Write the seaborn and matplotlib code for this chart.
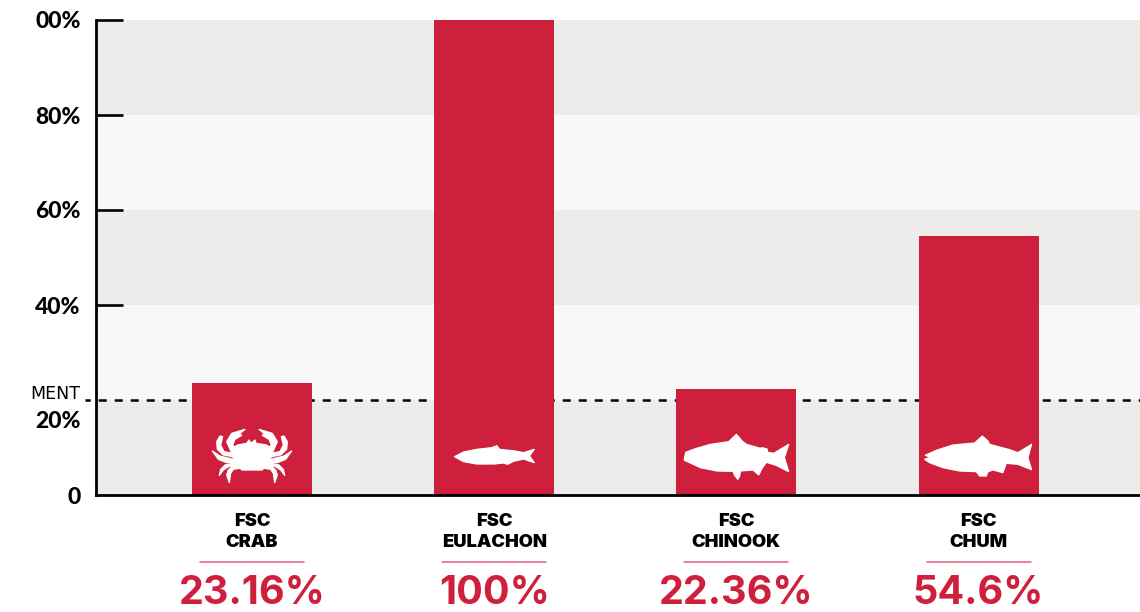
import matplotlib
matplotlib.use("Agg")
import matplotlib.pyplot as plt
import pandas as pd
import seaborn as sns
from matplotlib.patches import Polygon
from matplotlib.transforms import Affine2D, ScaledTranslation

# --- Data ---
categories = ["FSC\nCRAB", "FSC\nEULACHON", "FSC\nCHINOOK", "FSC\nCHUM"]
bar_values = [23.6, 100, 22.3, 54.5]
value_labels = ["23.16%", "100%", "22.36%", "54.6%"]
tick_values = [0, 20, 40, 60, 80, 100]
tick_labels = ["0", "20%", "40%", "60%", "80%", "00%"]
band_edges = [0, 20, 40, 60, 80, 100]
threshold = 20
threshold_label = "MENT"

RED = "#CE1F3C"
RULE = "#E0607A"
BAND_DARK = "#ECECEA"
BAND_LIGHT = "#F8F8F8"
W, H = 1140, 612
LEFT, RIGHT, TOP, BASE = 96, 1140, 20, 495
FIRST, STEP, BAR_W = 252, 242.2, 120

# icon outlines (3x pixels, y down)
chinook = [(72, 112), (76, 94), (105, 83), (150, 70), (205, 62), (228, 40), (245, 60), (258, 70),
           (300, 82), (305, 80), (320, 84), (322, 94), (340, 97), (385, 70), (372, 110), (385, 152),
           (345, 132), (318, 124), (305, 142), (295, 162), (278, 147), (240, 150), (238, 165),
           (232, 175), (222, 162), (218, 151), (170, 150), (120, 140), (90, 126), (72, 118)]
chum = [(797, 103), (830, 88), (880, 72), (945, 66), (968, 45), (985, 60), (990, 70), (1050, 86),
        (1075, 95), (1116, 70), (1105, 110), (1116, 146), (1075, 130), (1040, 127), (1030, 155),
        (1000, 147), (985, 152), (980, 165), (960, 165), (950, 152), (900, 150), (850, 140),
        (810, 125), (795, 115), (812, 108)]
eulachon = [(103, 80), (130, 66), (170, 58), (215, 53), (230, 47), (238, 58), (285, 63), (310, 68),
            (342, 58), (328, 78), (342, 98), (310, 87), (280, 94), (262, 103), (250, 99), (222, 102),
            (170, 102), (130, 95)]
crab_body = [(92, 90), (112, 75), (140, 70), (147, 60), (153, 70), (165, 60), (168, 70), (200, 75),
             (220, 90), (212, 115), (197, 135), (187, 150), (125, 150), (115, 135), (100, 115)]
crab_claw = [(92, 92), (80, 65), (95, 40), (135, 28), (118, 42), (125, 46), (105, 58), (98, 75), (108, 85)]
crab_leg1 = [(60, 48), (68, 50), (62, 75), (72, 95), (100, 100), (108, 112), (70, 105), (52, 88), (50, 65)]
crab_leg2 = [(37, 93), (60, 108), (100, 118), (114, 128), (80, 128), (55, 118)]
crab_leg3 = [(118, 135), (85, 140), (70, 150), (58, 166), (62, 148), (75, 135), (112, 127)]
crab_leg4 = [(125, 144), (100, 148), (92, 160), (88, 188), (80, 165), (85, 150), (100, 138), (120, 136)]
crab_left = [crab_claw, crab_leg1, crab_leg2, crab_leg3, crab_leg4]

# --- Chart ---
sns.set_theme(style="white")
plt.rcParams["font.family"] = ["Inter", "DejaVu Sans"]

fig = plt.figure(figsize=(W / 100, H / 100), dpi=100)
ax = fig.add_axes([LEFT / W, 1 - BASE / H, (RIGHT - LEFT) / W, (BASE - TOP) / H])

for i in range(len(band_edges) - 1):
    ax.axhspan(band_edges[i], band_edges[i + 1], lw=0, zorder=0,
               color=BAND_DARK if i % 2 == 0 else BAND_LIGHT)

ax.hlines(threshold, (85 - FIRST) / STEP, (RIGHT - FIRST) / STEP, colors="black", lw=1.8,
          linestyles=(1.1, (3.2, 3.2)), capstyle="butt", clip_on=False, zorder=1.5)

df = pd.DataFrame({"category": categories, "value": bar_values})
sns.barplot(data=df, x="category", y="value", color=RED, saturation=1, width=BAR_W / STEP, ax=ax,
            zorder=2, linewidth=0, edgecolor="none")

ax.set_xlim((LEFT - FIRST) / STEP, (RIGHT - FIRST) / STEP)
ax.set_ylim(0, 100)
ax.set_xlabel("")
ax.set_ylabel("")
sns.despine(ax=ax)
for side in ["left", "bottom"]:
    ax.spines[side].set_linewidth(2)
    ax.spines[side].set_color("black")
    ax.spines[side].set_zorder(3)

ax.set_yticks(tick_values)
ax.set_yticklabels(tick_labels, fontsize=16.5, fontweight="black", color="black", family="Lato")
ax.tick_params(axis="y", direction="in", length=19.5, width=1.9, color="black", pad=11, left=True)
ax.tick_params(axis="x", length=0, pad=13)
for lab in ax.get_xticklabels():
    lab.set(fontsize=13.2, fontweight="black", color="black", linespacing=1.3)
ax.yaxis.get_major_ticks()[1].tick1line.set_visible(False)
ax.yaxis.get_major_ticks()[0].tick1line.set_visible(False)
lab20 = ax.get_yticklabels()[1]
lab20.set_transform(lab20.get_transform() + ScaledTranslation(0, -20 / 100, fig.dpi_scale_trans))

ax.annotate(threshold_label, ((LEFT - FIRST) / STEP, threshold), xycoords="data", xytext=(-16 * 0.72, -2.5),
            textcoords="offset points", ha="right", va="bottom", fontsize=12.5, family="DejaVu Sans",
            color="black", annotation_clip=False)

# rule and big percentage under each bar
trans = ax.get_xaxis_transform()
for i, label in enumerate(value_labels):
    ax.plot([i - 52 / STEP, i + 52 / STEP], [-(562 - BASE) / (BASE - TOP)] * 2, color=RULE, lw=1.1,
            transform=trans, clip_on=False)
    ax.text(i, -(593 - BASE) / (BASE - TOP), label, transform=trans, ha="center", va="center",
            fontsize=28.5, fontweight="bold", color=RED)


# --- Icons ---
def add_icon(outline, origin_x, origin_y, bar_index, mirror=False):
    t = Affine2D().translate(-origin_x, -origin_y)
    if mirror:
        t = t.scale(-1, 1)
    t = t.scale(1 / 3, -1 / 3) + ScaledTranslation(bar_index, 0, ax.transData)
    ax.add_patch(Polygon(outline, closed=True, fc="white", ec="white", lw=0.9, joinstyle="round",
                         transform=t, zorder=2.5, clip_on=False))


add_icon(crab_body, 156, 225, 0)
for part in crab_left:
    add_icon(part, 156, 225, 0)
    add_icon(part, 156, 225, 0, mirror=True)
add_icon(eulachon, 222, 195, 1)
add_icon(chinook, 228, 222, 2)
add_icon(chum, 957, 222, 3)

fig.savefig("out.png", dpi=100)
